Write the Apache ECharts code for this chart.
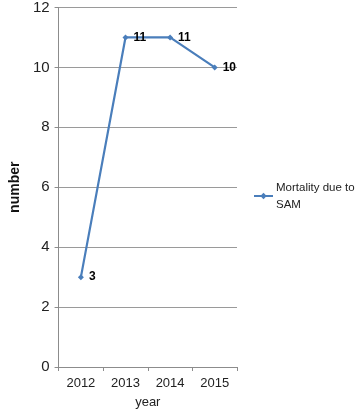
<!DOCTYPE html>
<html>
<head>
<meta charset="utf-8">
<script src="https://cdn.jsdelivr.net/npm/echarts@6/dist/echarts.min.js"></script>
<style>
  html, body { margin: 0; padding: 0; background: #fff; }
  #chart { width: 355px; height: 414px; }
</style>
</head>
<body>
<div id="chart"></div>
<script>
const years = ['2012', '2013', '2014', '2015']
const mortality = [3, 11, 11, 10]
const seriesName = 'Mortality due to SAM'

const chart = echarts.init(document.getElementById('chart'))
chart.setOption({
  animation: false,
  textStyle: { fontFamily: 'Liberation Sans, Arial, sans-serif' },
  grid: { left: 49, right: 118, top: 6, bottom: 47 },
  legend: {
    left: 248,
    top: 174,
    orient: 'vertical',
    itemWidth: 19,
    itemHeight: 8,
    itemGap: 4,
    data: [seriesName],
    formatter: () => 'Mortality due to\nSAM',
    textStyle: { color: '#222', fontSize: 11.5, lineHeight: 17, padding: [0, 0, 0, -2] },
  },
  xAxis: {
    type: 'category',
    data: years,
    name: 'year',
    nameLocation: 'middle',
    nameGap: 29,
    nameTextStyle: { color: '#222', fontSize: 13 },
    axisLine: { lineStyle: { color: '#8c8c8c' } },
    axisTick: { show: true, length: 4, lineStyle: { color: '#8c8c8c' } },
    axisLabel: { color: '#222', fontSize: 13, margin: 10 },
  },
  yAxis: {
    type: 'value',
    min: 0,
    max: 12,
    interval: 2,
    name: 'number',
    nameLocation: 'middle',
    nameGap: 34,
    nameTextStyle: { color: '#111', fontSize: 14, fontWeight: 'bold' },
    axisLine: { show: true, lineStyle: { color: '#8c8c8c' } },
    axisTick: { show: true, length: 4, lineStyle: { color: '#8c8c8c' } },
    axisLabel: { color: '#222', fontSize: 15, margin: 9 },
    splitLine: { lineStyle: { color: '#9a9a9a' } },
  },
  series: [
    {
      name: seriesName,
      type: 'line',
      data: mortality,
      symbol: 'diamond',
      symbolSize: 6,
      lineStyle: { color: '#4a7ebb', width: 2.2 },
      itemStyle: { color: '#4a7ebb' },
      label: {
        show: true,
        position: 'right',
        distance: 5,
        color: '#000',
        fontSize: 12,
        fontWeight: 'bold',
      },
    },
  ],
})
</script>
</body>
</html>
